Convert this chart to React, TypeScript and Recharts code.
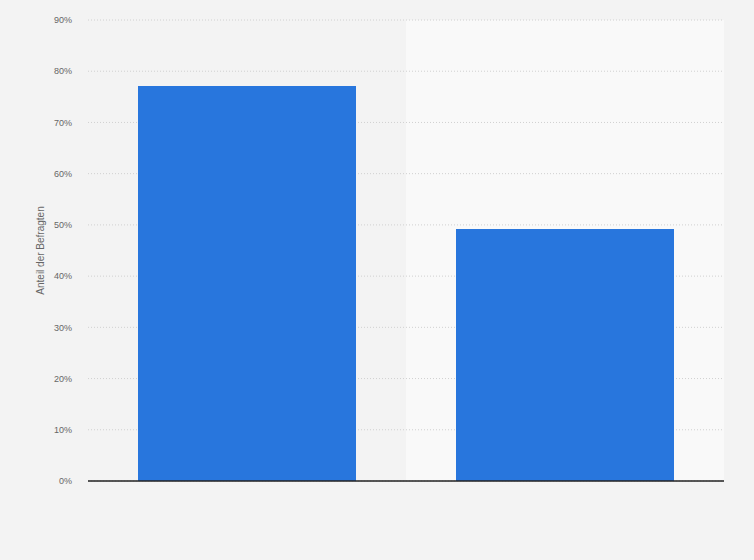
import React from 'react';
import { BarChart, Bar, XAxis, YAxis, CartesianGrid } from 'recharts';

const categories = ['Kategorie A', 'Kategorie B'];
const shares = [77.1, 49.2];
const yTicks = [0, 10, 20, 30, 40, 50, 60, 70, 80, 90];
const yLabel = 'Anteil der Befragten';

const data = categories.map((name, i) => ({ name, value: shares[i] }));

const font = '"Liberation Sans", Arial, sans-serif';

const YLabel = ({ viewBox }: any) => {
  const cx = 40;
  const cy = viewBox.y + viewBox.height / 2;
  return (
    <text
      x={cx}
      y={cy}
      transform={`rotate(-90, ${cx}, ${cy})`}
      textAnchor="middle"
      dominantBaseline="central"
      fontSize={10}
      fontFamily={font}
      fill="#666"
    >
      {yLabel}
    </text>
  );
};

// boundary between the two category bands
const bandSplit = ({ offset }: any) => [offset.left + offset.width / 2];

const App: React.FC = () => {
  return (
    <div style={{ position: 'fixed', top: 0, left: 0, width: 754, height: 560, background: '#f3f3f3' }}>
      <BarChart
        width={754}
        height={560}
        data={data}
        margin={{ top: 20, right: 30, bottom: 78, left: 0 }}
        barSize={218}
      >
        <CartesianGrid
          horizontal={false}
          vertical
          stroke="none"
          verticalFill={['transparent', '#f9f9f9']}
          fillOpacity={1}
          verticalCoordinatesGenerator={bandSplit}
        />
        <CartesianGrid vertical={false} stroke="#d0d0d0" strokeDasharray="1 2" />
        <XAxis dataKey="name" tick={false} tickLine={false} axisLine={{ stroke: '#222', strokeWidth: 1.5 }} height={1} />
        <YAxis
          width={88}
          domain={[0, 90]}
          ticks={yTicks}
          tickFormatter={(v: number) => `${v}%`}
          axisLine={false}
          tickLine={false}
          tickSize={0}
          tickMargin={16}
          tick={{ fontSize: 9, fill: '#666', fontFamily: font }}
          label={{ content: YLabel }}
        />
        <Bar dataKey="value" fill="#2876dd" isAnimationActive={false} />
      </BarChart>
    </div>
  );
};

export default App;
